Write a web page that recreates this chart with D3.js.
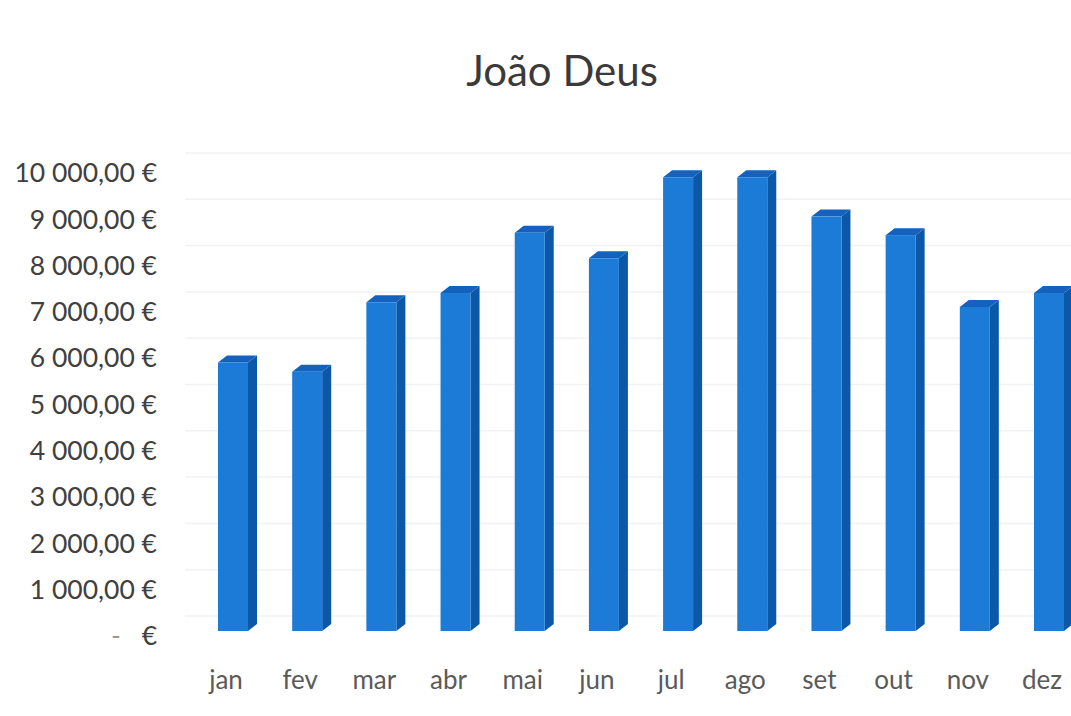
<!DOCTYPE html>
<html>
<head>
<meta charset="utf-8">
<script src="https://cdn.jsdelivr.net/npm/d3@7"></script>
<style>
  html, body { margin: 0; padding: 0; background: #fff; }
  svg { display: block; }
</style>
</head>
<body>
<div id="chart"></div>
<script>
// dados do gráfico
var months = ["jan", "fev", "mar", "abr", "mai", "jun", "jul", "ago", "set", "out", "nov", "dez"];
var values = [5800, 5600, 7100, 7300, 8600, 8050, 9800, 9800, 8950, 8550, 7000, 7300];
var tickValues = [0, 1000, 2000, 3000, 4000, 5000, 6000, 7000, 8000, 9000, 10000];
var tickLabels = ["- €", "1 000,00 €", "2 000,00 €", "3 000,00 €", "4 000,00 €", "5 000,00 €",
                  "6 000,00 €", "7 000,00 €", "8 000,00 €", "9 000,00 €", "10 000,00 €"];
var chartTitle = "João Deus";

var width = 1071,
    height = 716;

var depthX = 9,      // profundidade 3D das barras
    depthY = 7,
    barWidth = 30,
    wallShift = 20,   // grelha no fundo
    frontShift = 5;

var svg = d3.select("#chart")
  .append("svg")
    .attr("width", width)
    .attr("height", height);

// escalas
var y = d3.scaleLinear()
  .domain([0, 10000])
  .range([636, 173]);

var x = d3.scalePoint()
  .domain(months)
  .range([233, 1049]);

// titulo
svg.append("text")
  .attr("x", 562)
  .attr("y", 86)
  .attr("text-anchor", "middle")
  .style("font-family", "Lato, 'Open Sans', sans-serif")
  .style("font-size", "42px")
  .style("fill", "#3a3a3a")
  .text(chartTitle);

// grelha (parede do fundo)
svg.append("g")
  .selectAll("line")
  .data(tickValues)
  .enter()
    .append("line")
    .attr("x1", 185)
    .attr("x2", width)
    .attr("y1", function(d) { return y(d) - wallShift; })
    .attr("y2", function(d) { return y(d) - wallShift; })
    .style("stroke", "#f2f2f2")
    .style("stroke-width", 1.5);

// eixo y
var yAxis = svg.append("g")
  .style("font-family", "Lato, 'Open Sans', sans-serif")
  .style("font-size", "26.5px")
  .style("fill", "#404040");

tickValues.forEach(function(v, i) {
  var label = tickLabels[i];
  if (label.charAt(0) === "-") {
    yAxis.append("text")
      .attr("x", 157).attr("y", y(v)).attr("dy", "0.35em")
      .attr("text-anchor", "end")
      .text("€");
    yAxis.append("text")
      .attr("x", 116).attr("y", y(v)).attr("dy", "0.35em")
      .attr("text-anchor", "middle")
      .style("fill", "#999")
      .text("-");
  } else {
    yAxis.append("text")
      .attr("x", 157).attr("y", y(v)).attr("dy", "0.35em")
      .attr("text-anchor", "end")
      .text(label);
  }
});

// barras 3D
var bars = svg.append("g")
  .selectAll("g")
  .data(months)
  .enter()
    .append("g");

function barTop(i) { return y(values[i]) - frontShift; }
var barBase = y(0) - frontShift;

// face lateral
bars.append("path")
  .attr("d", function(d, i) {
    var x0 = x(d) + barWidth / 2, t = barTop(i);
    return "M" + x0 + "," + t +
           "L" + (x0 + depthX) + "," + (t - depthY) +
           "L" + (x0 + depthX) + "," + (barBase - depthY) +
           "L" + x0 + "," + barBase + "Z";
  })
  .style("fill", "#0b57a8");

// topo
bars.append("path")
  .attr("d", function(d, i) {
    var x0 = x(d) - barWidth / 2, t = barTop(i);
    return "M" + x0 + "," + t +
           "L" + (x0 + depthX) + "," + (t - depthY) +
           "L" + (x0 + barWidth + depthX) + "," + (t - depthY) +
           "L" + (x0 + barWidth) + "," + t + "Z";
  })
  .style("fill", "#1462bd");

// face frontal
bars.append("rect")
  .attr("x", function(d) { return x(d) - barWidth / 2; })
  .attr("y", function(d, i) { return barTop(i); })
  .attr("width", barWidth)
  .attr("height", function(d, i) { return barBase - barTop(i); })
  .style("fill", "#1b7bd6");

// eixo x
svg.append("g")
  .selectAll("text")
  .data(months)
  .enter()
    .append("text")
    .attr("x", function(d) { return x(d) - 7; })
    .attr("y", 689)
    .attr("text-anchor", "middle")
    .style("font-family", "Lato, 'Open Sans', sans-serif")
    .style("font-size", "26px")
    .style("fill", "#5a5a5a")
    .text(function(d) { return d; });
</script>
</body>
</html>
